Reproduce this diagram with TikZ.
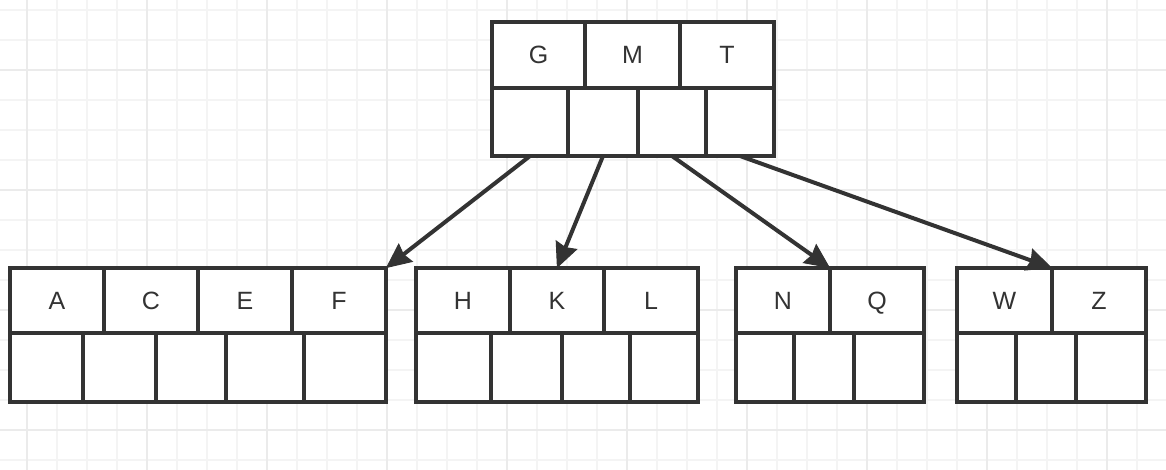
\documentclass[tikz,border=0pt]{standalone}
\usepackage{fontspec}
\setmainfont{Liberation Sans}
\usepackage{tikz}
\usetikzlibrary{calc}

\definecolor{ink}{HTML}{333333}
\definecolor{gridminor}{HTML}{F4F4F4}
\definecolor{gridmajor}{HTML}{EBEBEB}

\tikzset{
	cell/.style={draw=ink,fill=white,line width=4pt,inner sep=0pt,outer sep=0pt,
		text=ink,font=\fontsize{25}{25}\selectfont,text height=18pt,text depth=0pt},
	link/.style={draw=ink,line width=4pt},
	head/.style={fill=ink,draw=ink,line width=1pt,line join=miter}
}

\begin{document}
\begin{tikzpicture}[x=1pt,y=-1pt]
				\useasboundingbox (0,0) rectangle (1166,470);
				% grid
				\foreach \x in {27,57,...,1160}
					\draw[gridminor,line width=2pt] (\x,0) -- (\x,470);
				\foreach \y in {10,40,...,465}
					\draw[gridminor,line width=2pt] (0,\y) -- (1166,\y);
				\foreach \x in {27,147,...,1160}
					\draw[gridmajor,line width=2pt] (\x,0) -- (\x,470);
				\foreach \y in {70,190,...,465}
					\draw[gridmajor,line width=2pt] (0,\y) -- (1166,\y);
				% root
				\foreach \nm/\a/\b/\t in {g/492/585/G,m/585/680/M,t/680/774/T}
					\node[cell,minimum width={\b-\a},minimum height=66] (\nm) at ({(\a+\b)/2},55) {\t};
				\foreach \nm/\a/\b in {r1/492/568,r2/568/638,r3/638/706,r4/706/774}
					\node[cell,minimum width={\b-\a},minimum height=68] (\nm) at ({(\a+\b)/2},122) {};
				% leaves, keys
				\foreach \nm/\a/\b/\t in {a/10/104/A,c/104/198/C,e/198/292/E,f/292/386/F,
						h/416/510/H,k/510/604/K,l/604/698/L,
						n/736/830/N,q/830/924/Q,
						w/957/1052/W,z/1052/1146/Z}
					\node[cell,minimum width={\b-\a},minimum height=65] (\nm) at ({(\a+\b)/2},300.5) {\t};
				% leaves, pointers
				\foreach \nm/\a/\b in {a1/10/83,a2/83/156,a3/156/226,a4/226/304,a5/304/386,
						h1/416/491,h2/491/562,h3/562/630,h4/630/698,
						n1/736/794,n2/794/854,n3/854/924,
						w1/957/1016,w2/1016/1076,w3/1076/1146}
					\node[cell,minimum width={\b-\a},minimum height=69] (\nm) at ({(\a+\b)/2},367.5) {};
				% children
				\foreach \s/\e in {r1/f.north east,r2/k.north,r3/n.north east,r4/w.north east} {
					\draw[link] (\s.south) -- ($(\e)!18pt!(\s.south)$);
					\draw[head] ($(\e)!1pt!(\s.south)$) -- ($(\e)!27pt!24:(\s.south)$)
						-- ($(\e)!22pt!(\s.south)$) -- ($(\e)!27pt!-24:(\s.south)$) -- cycle;
				}
			\end{tikzpicture}
\end{document}
